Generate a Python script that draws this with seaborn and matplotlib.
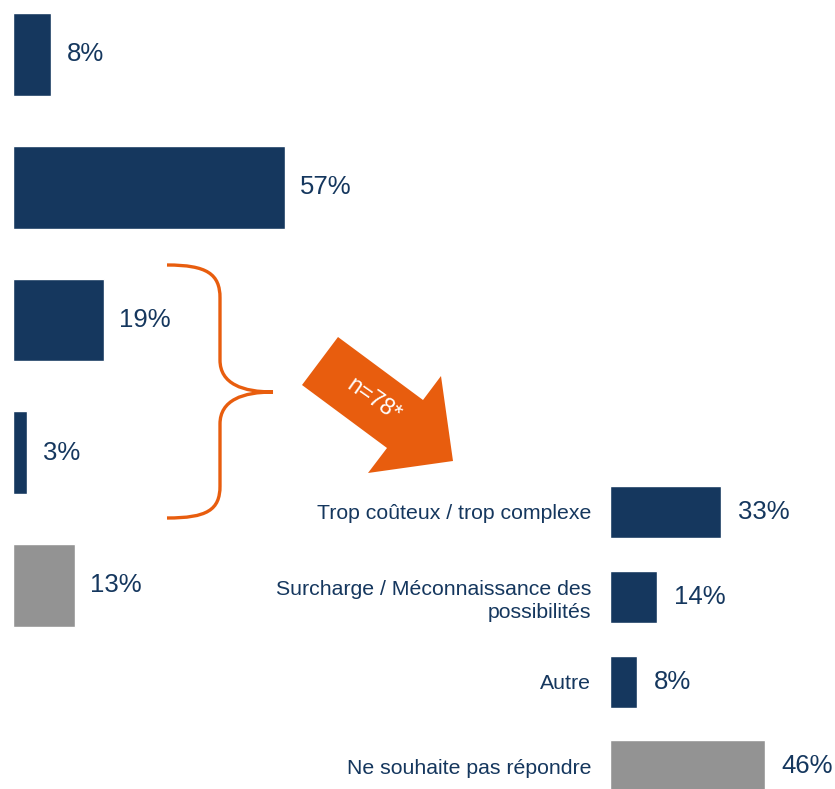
import matplotlib
matplotlib.use("Agg")
import matplotlib.pyplot as plt
import seaborn as sns
import pandas as pd
from matplotlib.path import Path
from matplotlib.patches import PathPatch, Polygon

sns.set_theme(style="white")
plt.rcParams['font.family'] = ['Liberation Sans', 'DejaVu Sans']

# ---- data ----
left_categories = ["Réponse 1", "Réponse 2", "Réponse 3", "Réponse 4", "Réponse 5"]
left_values = [8, 57, 19, 3, 13]
left_colors = ["#15375E", "#15375E", "#15375E", "#15375E", "#939393"]

right_categories = ["Trop coûteux / trop complexe",
                    "Surcharge / Méconnaissance des\npossibilités",
                    "Autre",
                    "Ne souhaite pas répondre"]
right_values = [33, 14, 8, 46]
right_colors = ["#15375E", "#15375E", "#15375E", "#939393"]

arrow_text = "n=78*"

NAVY = "#15375E"
ORANGE = "#E85D0E"

W, H = 835, 789
fig = plt.figure(figsize=(W / 100, H / 100), dpi=100)


def fx(x):
    return x / W


def fy(y):
    return 1 - y / H


# ---- left chart ----
axL = fig.add_axes([fx(13), 0, 477 / W, 1])
dfL = pd.DataFrame({"cat": left_categories, "val": left_values})
sns.barplot(data=dfL, x="val", y="cat", hue="cat", palette=left_colors,
            legend=False, width=0.625, ax=axL, saturation=1, orient="h")
for c in axL.containers:
    axL.bar_label(c, fmt="%g%%", padding=11, fontsize=18.5, color=NAVY)
axL.set_xlim(0, 100)
axL.set_ylim(5.533, -0.4105)
axL.axis("off")

# ---- right chart ----
axR = fig.add_axes([fx(610), 0, 225 / W, 1])
dfR = pd.DataFrame({"cat": right_categories, "val": right_values})
sns.barplot(data=dfR, x="val", y="cat", hue="cat", palette=right_colors,
            legend=False, width=0.613, ax=axR, saturation=1, orient="h")
for c in axR.containers:
    axR.bar_label(c, fmt="%g%%", padding=12, fontsize=18.5, color=NAVY,
                  clip_on=False)
axR.set_xlim(0, 225 / 3.37)
axR.set_ylim(3.267, -6.038)
axR.set_xlabel("")
axR.set_ylabel("")
axR.set_xticks([])
for s in axR.spines.values():
    s.set_visible(False)
axR.tick_params(axis="y", length=0, pad=13.5, labelsize=15.3, labelcolor=NAVY)
for lab in axR.get_yticklabels():
    lab.set_horizontalalignment("right")
    lab.set_linespacing(1.25)
axR.patch.set_alpha(0)

# ---- brace ----
pts = [(167, 265), (207, 265), (220, 274), (220, 298),
       (220, 360),
       (220, 384), (243, 392), (273, 392),
       (243, 392), (220, 400), (220, 424),
       (220, 486),
       (220, 510), (207, 518), (167, 518)]
codes = [Path.MOVETO, Path.CURVE4, Path.CURVE4, Path.CURVE4,
         Path.LINETO,
         Path.CURVE4, Path.CURVE4, Path.CURVE4,
         Path.CURVE4, Path.CURVE4, Path.CURVE4,
         Path.LINETO,
         Path.CURVE4, Path.CURVE4, Path.CURVE4]
brace = PathPatch(Path([(fx(x), fy(y)) for x, y in pts], codes),
                  transform=fig.transFigure, fill=False, edgecolor=ORANGE,
                  linewidth=2.4, capstyle="butt")
fig.patches.append(brace)

# ---- arrow ----
arrow_pts = [(302, 385), (338, 337), (423, 400), (441, 376),
             (453, 461), (368, 473), (387, 448)]
arrow = Polygon([(fx(x), fy(y)) for x, y in arrow_pts], closed=True,
                transform=fig.transFigure, facecolor=ORANGE, edgecolor="none")
fig.patches.append(arrow)
fig.text(fx(374), fy(400), arrow_text, rotation=-35, color="white",
         fontsize=16.5, ha="center", va="center", rotation_mode="anchor")

fig.savefig("out.png", dpi=100)
